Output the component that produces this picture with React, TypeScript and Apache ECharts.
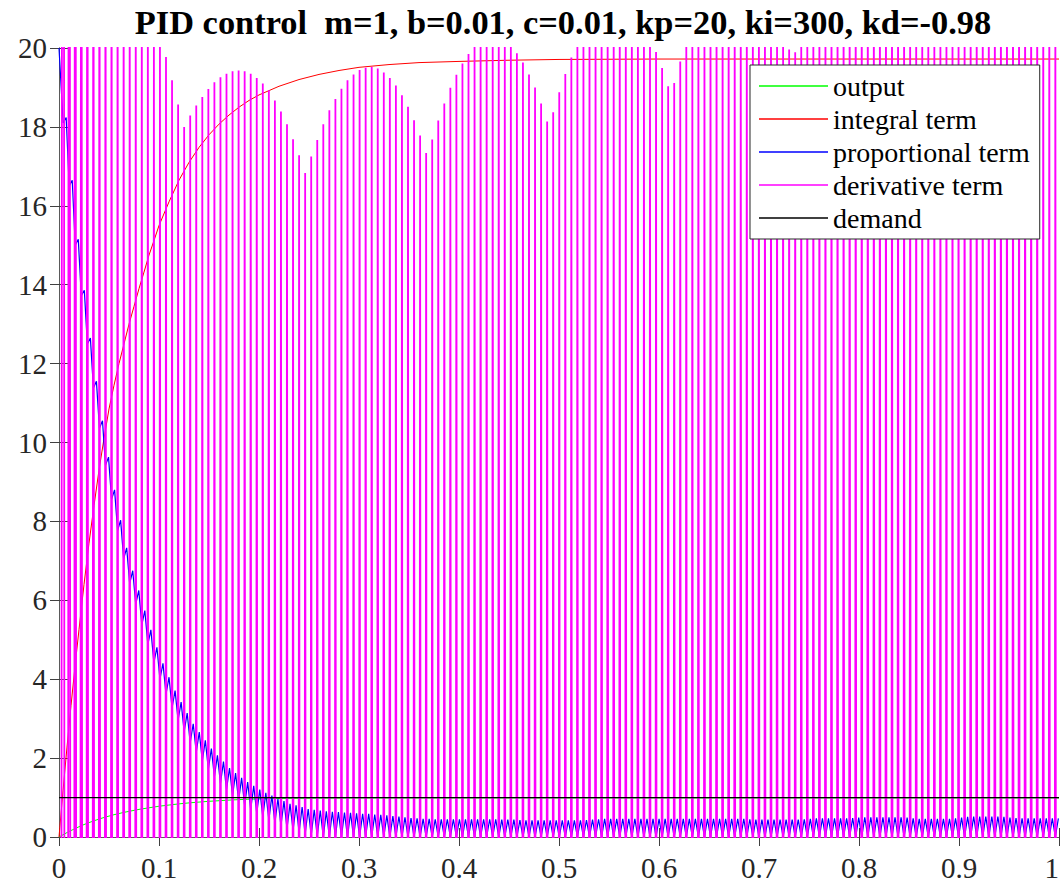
import React, { useEffect, useRef } from "react";
import * as echarts from "echarts";

// Sampling of the simulated run: the controller alternates every half period,
// so the samples sit on a grid of half periods starting at SAMPLE_T0.
const SAMPLE_T0 = 0.00415;
const HALF_STEP = 0.003025;

// Derivative term: one peak per full period (values above 20 run off the axes).
const DERIV_PEAKS = [
  80, 62, 50, 42, 36, 32, 29, 27, 25.5, 24.2, 23.2, 22.4, 21.8, 21.3, 20.9, 20.6, 20.3,
  19.77, 19.18, 18.57, 18.0, 18.29, 18.54, 18.76, 18.96, 19.13, 19.26, 19.35, 19.41, 19.43, 19.41,
  19.35, 19.24, 19.1, 18.93, 18.67, 18.39, 18.07, 17.69, 17.28, 16.83, 17.25, 17.67, 18.07, 18.42,
  18.71, 18.97, 19.18, 19.33,
  19.44, 19.5, 19.52, 19.48, 19.38, 19.24, 19.05, 18.8, 18.51, 18.17, 17.78, 17.34, 17.68, 18.16,
  18.59, 18.99, 19.32, 19.61, 19.85,
  20.1, 20.25, 20.35, 20.4, 20.35, 20.25, 20.1,
  19.87, 19.63, 19.33, 19.0, 18.59, 18.14, 18.37, 18.88, 19.34, 19.76,
  20.15, 20.45, 20.7, 20.9, 21.0, 21.1, 21.1, 21.05, 20.95, 20.8, 20.6, 20.4, 20.15,
  19.9, 19.49, 19.03, 19.11, 19.66,
  20.2, 20.6, 20.9, 21.2, 21.4, 21.6, 21.7, 21.75, 21.7, 21.6, 21.45, 21.25, 21.0, 20.75, 20.5, 20.25, 20.1,
  19.96, 19.89,
  20.1, 20.4, 20.8, 21.2, 21.6, 21.9, 22.2, 22.4, 22.6, 22.7, 22.8, 22.8, 22.7, 22.6, 22.4, 22.2,
  21.9, 21.6, 21.3, 21.0, 20.8, 20.6, 20.5, 20.5, 20.6, 20.8, 21.0, 21.3, 21.6, 21.9, 22.2, 22.5,
  22.7, 22.9, 23.0, 23.1, 23.1, 23.0, 22.9, 22.7, 22.5, 22.3, 22.1,
];
// Between peaks the derivative term swings far below the visible range.
const DERIV_FLOOR = -120;

// Proportional term: start value, then per period a low followed by a high.
const PROP_START = 20;
const PROP_LOWS = [
  18.1, 16.5, 15.0, 13.72, 12.5, 11.38, 10.36, 9.42, 8.56, 7.77, 7.05, 6.42, 5.9, 5.38, 4.88, 4.42,
  4.0, 3.62, 3.27, 2.96, 2.67, 2.39, 2.15, 1.93, 1.72, 1.53, 1.36, 1.2, 1.05, 0.92, 0.8, 0.69,
  0.6, 0.51, 0.43, 0.35, 0.29, 0.22, 0.17, 0.12, 0.07, 0.04, 0.02, 0.0,
  0, 0, 0, 0, 0, 0, 0, 0, 0, 0, 0, 0, 0, 0, 0, 0, 0, 0, 0, 0,
  0, 0, 0, 0, 0, 0, 0, 0, 0, 0, 0, 0, 0, 0, 0, 0, 0, 0, 0, 0,
  0, 0, 0, 0, 0, 0, 0, 0, 0, 0, 0, 0, 0, 0, 0, 0, 0, 0, 0, 0,
  0, 0, 0, 0, 0, 0, 0, 0, 0, 0, 0, 0, 0, 0, 0, 0, 0, 0, 0, 0,
  0, 0, 0, 0, 0, 0, 0, 0, 0, 0, 0, 0, 0, 0, 0, 0, 0, 0, 0, 0,
  0, 0, 0, 0, 0, 0, 0, 0, 0, 0, 0, 0, 0, 0, 0, 0, 0, 0, 0, 0,
  0,
];
const PROP_HIGHS = [
  18.24, 16.65, 15.15, 13.86, 12.65, 11.55, 10.55, 9.63, 8.8, 8.03, 7.33, 6.75, 6.25, 5.74, 5.25,
  4.81, 4.4, 4.05, 3.71, 3.42, 3.14, 2.87, 2.66, 2.45, 2.24, 2.07, 1.91, 1.75, 1.62, 1.5, 1.39,
  1.3, 1.2, 1.12, 1.05, 0.97, 0.91, 0.84, 0.8, 0.76, 0.71, 0.69, 0.67, 0.65,
  0.64, 0.63, 0.62, 0.61, 0.6, 0.59, 0.59, 0.57, 0.56, 0.55, 0.53, 0.52, 0.5, 0.48, 0.47,
  0.46, 0.46, 0.45, 0.45, 0.45, 0.45, 0.45, 0.45, 0.45, 0.45, 0.45, 0.45, 0.45, 0.44, 0.44, 0.44, 0.43,
  0.42, 0.42, 0.42, 0.42, 0.42, 0.42, 0.42, 0.42, 0.42, 0.42,
  0.43, 0.44, 0.45, 0.46, 0.46, 0.46, 0.46, 0.46, 0.46, 0.46, 0.46, 0.46, 0.46, 0.46, 0.46, 0.46,
  0.46, 0.46, 0.46, 0.46, 0.46, 0.46, 0.46, 0.46, 0.46, 0.46, 0.46,
  0.45, 0.44, 0.44, 0.44, 0.44, 0.44, 0.44, 0.44, 0.44, 0.45,
  0.46, 0.47, 0.47, 0.47, 0.47, 0.47, 0.47, 0.48,
  0.49, 0.5, 0.5, 0.5, 0.5, 0.5, 0.5, 0.5, 0.49,
  0.47, 0.46, 0.46, 0.46, 0.46, 0.46, 0.46, 0.47,
  0.49, 0.51, 0.52, 0.52, 0.52, 0.52, 0.52, 0.51,
  0.49, 0.48, 0.47, 0.47, 0.47, 0.47, 0.47, 0.47, 0.47,
];

// Integral term.
const INTEGRAL_T = [
  0, 0.004, 0.008, 0.012, 0.016, 0.02, 0.025, 0.03, 0.035, 0.04, 0.045, 0.05, 0.055, 0.06, 0.065,
  0.07, 0.075, 0.08, 0.085, 0.09, 0.095, 0.1, 0.11, 0.12, 0.13, 0.14, 0.15, 0.16, 0.17, 0.18, 0.19,
  0.2, 0.22, 0.24, 0.26, 0.28, 0.3, 0.33, 0.36, 0.4, 0.45, 0.5, 0.6, 0.8, 1.0,
];
const INTEGRAL_V = [
  0, 1.17, 2.28, 3.33, 4.32, 5.26, 6.4, 7.45, 8.4, 9.3, 10.1, 10.85, 11.45, 12.0, 12.5,
  13.0, 13.45, 13.9, 14.32, 14.75, 15.12, 15.5, 16.1, 16.65, 17.1, 17.48, 17.8, 18.07, 18.3, 18.5, 18.67,
  18.81, 19.03, 19.2, 19.33, 19.43, 19.51, 19.58, 19.63, 19.66, 19.69, 19.71, 19.72, 19.72, 19.72,
];

// Plant output.
const OUTPUT_T = [
  0, 0.005, 0.01, 0.015, 0.02, 0.025, 0.03, 0.035, 0.04, 0.045, 0.05, 0.055, 0.06, 0.065, 0.07,
  0.075, 0.08, 0.09, 0.1, 0.11, 0.12, 0.13, 0.14, 0.15, 0.16, 0.17, 0.18, 0.19, 0.2, 0.22, 0.24,
  0.26, 0.28, 0.3, 0.4, 0.5, 0.6, 0.7, 0.8, 0.9, 1.0,
];
const OUTPUT_V = [
  0, 0.07, 0.14, 0.2, 0.26, 0.315, 0.365, 0.41, 0.455, 0.495, 0.53, 0.565, 0.595, 0.625, 0.65,
  0.675, 0.7, 0.74, 0.78, 0.81, 0.84, 0.865, 0.885, 0.905, 0.92, 0.935, 0.948, 0.958, 0.966, 0.976, 0.982,
  0.986, 0.988, 0.99, 0.99, 0.99, 0.99, 0.99, 0.99, 0.99, 0.99,
];

// Set point.
const DEMAND_T = [0, 1];
const DEMAND_V = [1, 1];

const SERIES_NAMES = ["output", "integral term", "proportional term", "derivative term", "demand"];
const SERIES_COLORS = ["#00ff00", "#ff0000", "#0000ff", "#ff00ff", "#000000"];

const TITLE = "PID control  m=1, b=0.01, c=0.01, kp=20, ki=300, kd=-0.98";

const X_MIN = 0;
const X_MAX = 1;
const X_STEP = 0.1;
const Y_MIN = 0;
const Y_MAX = 20;
const Y_STEP = 2;

const SERIF = "Liberation Serif";

function pairs(ts: number[], vs: number[]) {
  return ts.map((t, i) => [t, vs[i]]);
}

function derivativeData() {
  const out: number[][] = [[0, DERIV_FLOOR]];
  DERIV_PEAKS.forEach((p, k) => {
    out.push([SAMPLE_T0 + 2 * k * HALF_STEP, p]);
    out.push([SAMPLE_T0 + (2 * k + 1) * HALF_STEP, DERIV_FLOOR]);
  });
  return out;
}

function proportionalData() {
  const out: number[][] = [[0, PROP_START]];
  PROP_HIGHS.forEach((h, k) => {
    out.push([SAMPLE_T0 + 2 * k * HALF_STEP, PROP_LOWS[k]]);
    out.push([SAMPLE_T0 + (2 * k + 1) * HALF_STEP, h]);
  });
  return out;
}

// The last x tick sits on the right edge of the page; keep it inside the page.
function xTickLabel(v: number) {
  const s = String(Math.round(v * 10) / 10);
  return v >= X_MAX ? `{edge|${s}}` : s;
}

export default function App() {
  const ref = useRef<HTMLDivElement>(null);

  useEffect(() => {
    if (!ref.current) return;
    const chart = echarts.init(ref.current, undefined, { renderer: "svg" });

    const axisLine = { show: true, lineStyle: { color: "#5a5a5a", width: 1 } };
    const axisTick = { show: true, inside: true, length: 9, lineStyle: { color: "#404040", width: 1 } };
    const tickFont = { fontFamily: SERIF, fontSize: 29, color: "#262626" };

    const lineSeries = (idx: number, data: number[][], width: number) => ({
      name: SERIES_NAMES[idx],
      type: "line",
      data,
      showSymbol: false,
      symbol: "none",
      clip: true,
      lineStyle: { color: SERIES_COLORS[idx], width },
      itemStyle: { color: SERIES_COLORS[idx] },
      emphasis: { disabled: true },
    });

    chart.setOption({
      animation: false,
      backgroundColor: "#ffffff",
      textStyle: { fontFamily: SERIF },
      title: {
        text: TITLE,
        left: 558,
        textAlign: "center",
        top: 0,
        textStyle: { fontFamily: SERIF, fontSize: 34.4, fontWeight: "bold", color: "#000" },
      },
      grid: {
        left: 59,
        top: 48,
        width: 1000,
        height: 789,
        containLabel: false,
        outerBoundsMode: "none",
      },
      xAxis: [
        {
          type: "value",
          position: "bottom",
          min: X_MIN,
          max: X_MAX,
          interval: X_STEP,
          axisLine,
          axisTick,
          splitLine: { show: false },
          alignMaxLabel: "right",
          axisLabel: {
            ...tickFont,
            margin: 16,
            alignMaxLabel: "right",
            formatter: xTickLabel,
            rich: { edge: { ...tickFont, padding: [0, 0, 0, 0] } },
          },
        },
        {
          type: "value",
          position: "top",
          min: X_MIN,
          max: X_MAX,
          interval: X_STEP,
          axisLine,
          axisTick,
          splitLine: { show: false },
          axisLabel: { show: false },
        },
      ],
      yAxis: [
        {
          type: "value",
          position: "left",
          min: Y_MIN,
          max: Y_MAX,
          interval: Y_STEP,
          axisLine,
          axisTick,
          splitLine: { show: false },
          axisLabel: { ...tickFont, margin: 12 },
        },
        {
          type: "value",
          position: "right",
          min: Y_MIN,
          max: Y_MAX,
          interval: Y_STEP,
          axisLine,
          axisTick,
          splitLine: { show: false },
          axisLabel: { show: false },
        },
      ],
      legend: {
        orient: "vertical",
        left: 750,
        top: 65,
        padding: [7, 10, 7, 9],
        itemWidth: 69,
        itemHeight: 1.5,
        itemGap: 5,
        selectedMode: false,
        backgroundColor: "#ffffff",
        borderColor: "#262626",
        borderWidth: 1,
        textStyle: { fontFamily: SERIF, fontSize: 28, color: "#000", lineHeight: 28 },
        data: SERIES_NAMES.map((n) => ({ name: n, icon: "rect" })),
      },
      series: [
        lineSeries(0, pairs(OUTPUT_T, OUTPUT_V), 1),
        lineSeries(1, pairs(INTEGRAL_T, INTEGRAL_V), 1),
        lineSeries(2, proportionalData(), 1.2),
        lineSeries(3, derivativeData(), 1.8),
        lineSeries(4, pairs(DEMAND_T, DEMAND_V), 1.2),
      ],
    });

    return () => chart.dispose();
  }, []);

  return (
    <div
      ref={ref}
      style={{ position: "absolute", left: 0, top: 0, width: 1064, height: 882, background: "#fff" }}
    />
  );
}
